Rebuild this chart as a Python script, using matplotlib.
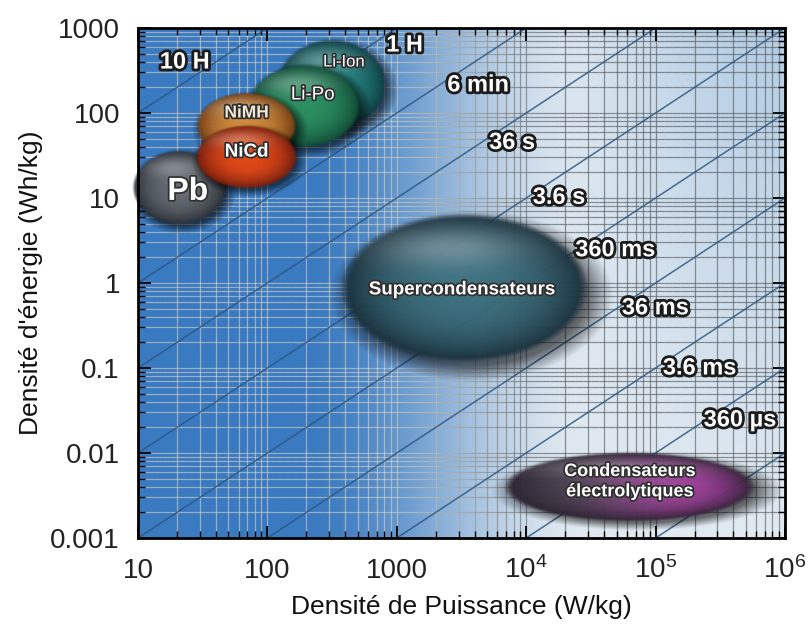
import numpy as np
import matplotlib
matplotlib.use('Agg')
import matplotlib.pyplot as plt
from matplotlib.collections import LineCollection
from matplotlib.ticker import LogLocator, NullFormatter
import matplotlib.patheffects as pe

plt.rcParams['font.family'] = ['Liberation Sans', 'DejaVu Sans']
plt.rcParams['mathtext.fontset'] = 'custom'
plt.rcParams['mathtext.rm'] = 'Liberation Sans'
plt.rcParams['mathtext.it'] = 'Liberation Sans:italic'
plt.rcParams['mathtext.bf'] = 'Liberation Sans:bold'

# ---------------- data ----------------
technologies = ['Li-Ion', 'Li-Po', 'Pb', 'NiMH', 'NiCd',
                'Supercondensateurs', 'Condensateurs\nélectrolytiques']
center_power = [316, 192, 21, 69, 69, 3300, 63000]           # W/kg
center_energy = [214, 120, 13.1, 70, 30, 0.87, 0.0040]        # Wh/kg
span_power_dec = [0.85, 0.87, 0.73, 0.78, 0.79, 1.92, 1.96]   # width in decades
span_energy_dec = [1.06, 0.98, 0.88, 0.78, 0.75, 1.76, 0.82]  # height in decades
label_power = [390, 224, 24.3, 69, 69, 3170, 63000]
label_energy = [398, 163, 11.8, 100, 34.7, 0.83, 0.0046]

durations_h = [10, 1, 0.1, 0.01, 1e-3, 1e-4, 1e-5, 1e-6, 1e-7, 1e-8]
duration_labels = ['10 H', '1 H', '6 min', '36 s', '3.6 s', '360 ms', '36 ms', '3.6 ms', '360 µs']
duration_label_power = [23, 1150, 4260, 7800, 18000, 49000, 100000, 220000, 450000]
duration_label_energy = [398, 631, 214, 45, 10.2, 2.46, 0.51, 0.10, 0.0245]

x_ticks = [10, 100, 1000, 1e4, 1e5, 1e6]
x_tick_labels = ['10', '100', '1000', r'$\mathregular{10^4}$',
                 r'$\mathregular{10^5}$', r'$\mathregular{10^6}$']
y_ticks = [0.001, 0.01, 0.1, 1, 10, 100, 1000]
y_tick_labels = ['0.001', '0.01', '0.1', '1', '10', '100', '1000']
x_range = (10, 1e6)
y_range = (0.001, 1000)

# ---------------- styles ----------------
blob_mid = [(38, 135, 130), (45, 148, 100), (105, 110, 116), (218, 142, 60),
            (238, 75, 22), (62, 115, 130), (78, 70, 84)]
blob_mid2 = [None, None, None, None, None, None, (200, 72, 190)]
blob_rim = [(10, 55, 60), (15, 70, 50), (40, 44, 50), (110, 55, 15),
            (110, 25, 10), (22, 42, 52), (40, 30, 45)]
blob_z = [3.0, 3.2, 3.4, 3.6, 3.8, 3.0, 3.0]
label_size = [12, 13.5, 23, 12.5, 13.5, 13.5, 13]
label_weight = ['normal', 'normal', 'bold', 'bold', 'bold', 'bold', 'bold']
label_color = ['white', 'white', 'white', '#f5e8d5', 'white', 'white', 'white']

fig = plt.figure(figsize=(8.08, 6.28), dpi=100)
ax = fig.add_axes([0.1708, 0.1433, 0.8007, 0.8121])
ax.set_xscale('log')
ax.set_yscale('log')
ax.set_xlim(*x_range)
ax.set_ylim(*y_range)
ax.set_autoscale_on(False)

# ---- background gradient (axes coordinates) ----
nx, ny = 400, 300
t = np.linspace(0, 1, nx)[None, :]
s = np.linspace(1, 0, ny)[:, None]


def smooth(a, b, x):
    z = np.clip((x - a) / (b - a), 0, 1)
    return z * z * (3 - 2 * z)


blue = np.array([58, 122, 192]) / 255
white = np.array([226, 234, 241]) / 255
light_top = np.array([172, 200, 226]) / 255
g = smooth(0.55, 1.0, t) * 0.85
light = white[None, None, :] * (1 - (s * g)[..., None]) + light_top[None, None, :] * (s * g)[..., None]
w = smooth(0.25, 0.70, t)[..., None]
bg = blue[None, None, :] * (1 - w) + light * w
bg = np.broadcast_to(bg, (ny, nx, 3))
ax.imshow(bg, extent=(0, 1, 0, 1), transform=ax.transAxes, aspect='auto',
          interpolation='bilinear', zorder=0)

# ---- grid with colour varying from light (left) to dark (right) ----
lx0, lx1 = np.log10(x_range)
ly0, ly1 = np.log10(y_range)
grid_light = np.array([0.90, 0.86, 0.78, 0.55])
grid_dark = np.array([0.34, 0.36, 0.38, 0.65])


def grid_color(tt):
    m = smooth(0.36, 0.66, np.asarray(tt))[..., None]
    return grid_light * (1 - m) + grid_dark * m


loc = LogLocator(base=10, subs=np.arange(1, 10))
xv = [v for v in loc.tick_values(*x_range) if x_range[0] < v < x_range[1]]
yv = [v for v in loc.tick_values(*y_range) if y_range[0] < v < y_range[1]]
vsegs = [[(v, y_range[0]), (v, y_range[1])] for v in xv]
vcols = grid_color([(np.log10(v) - lx0) / (lx1 - lx0) for v in xv])
ax.add_collection(LineCollection(vsegs, colors=vcols, linewidths=0.9, zorder=1))
xs = np.logspace(lx0, lx1, 81)
hsegs, hcols = [], []
for v in yv:
    for a, b in zip(xs[:-1], xs[1:]):
        hsegs.append([(a, v), (b, v)])
        hcols.append(grid_color((np.log10(np.sqrt(a * b)) - lx0) / (lx1 - lx0)))
ax.add_collection(LineCollection(hsegs, colors=hcols, linewidths=0.9, zorder=1))

# ---- constant-duration lines E = t * P ----
P = np.array(x_range)
for d in durations_h:
    ax.plot(P, d * P, color='#2b5682', lw=1.1, alpha=0.85, zorder=2)

# ---- technology blobs (ellipses in log space, shaded) ----
T = ax.transLimits + ax.transAxes   # log10 coordinates -> display


def blob(lx, ly, wd, hd, mid, rim, mid2, z):
    n = 200
    u = np.linspace(-1, 1, n)
    U, V = np.meshgrid(u, u[::-1])
    r = np.sqrt(U ** 2 + V ** 2)
    mid = np.array(mid, float)
    rim = np.array(rim, float)
    if mid2 is not None:
        mix = smooth(-0.7, 0.8, U)[..., None]
        base = mid * (1 - mix) + np.array(mid2, float) * mix
    else:
        base = np.broadcast_to(mid, (n, n, 3))
    f = (np.clip(r, 0, 1) ** 2.4)[..., None]
    col = base * (1 - f) + rim * f
    hl = (0.30 * np.exp(-((U + 0.15) ** 2 / 0.35 + (V - 0.55) ** 2 / 0.07)))[..., None]
    col = col + (255 - col) * hl
    alpha = np.clip((1.0 - r) / 0.07, 0, 1) * 0.95
    img = np.dstack([np.clip(col / 255, 0, 1), alpha])
    im = ax.imshow(img, extent=(lx - wd / 2, lx + wd / 2, ly - hd / 2, ly + hd / 2),
                   transform=T, aspect='auto', interpolation='bilinear', zorder=z)
    im.set_clip_on(False)
    # soft shadow
    k = 1.3
    us = np.linspace(-k, k, n)
    Us, Vs = np.meshgrid(us, us[::-1])
    rs = np.sqrt(Us ** 2 + Vs ** 2)
    sa = 0.55 * np.clip((1.15 - rs) / 0.22, 0, 1)
    simg = np.zeros((n, n, 4))
    simg[..., 3] = sa
    ox, oy = 0.03 * wd, -0.05 * hd
    ax.imshow(simg, extent=(lx - k * wd / 2 + ox, lx + k * wd / 2 + ox,
                            ly - k * hd / 2 + oy, ly + k * hd / 2 + oy),
              transform=T, aspect='auto', interpolation='bilinear', zorder=z - 0.05)


for i, name in enumerate(technologies):
    blob(np.log10(center_power[i]), np.log10(center_energy[i]),
         span_power_dec[i], span_energy_dec[i],
         blob_mid[i], blob_rim[i], blob_mid2[i], blob_z[i])
    ax.text(label_power[i], label_energy[i], name, ha='center', va='center',
            fontsize=label_size[i], fontweight=label_weight[i], color=label_color[i],
            linespacing=1.25, zorder=blob_z[i] + 0.05,
            path_effects=[pe.withStroke(linewidth=2.5, foreground='#303030')])

# ---- duration labels ----
for lab, px, py in zip(duration_labels, duration_label_power, duration_label_energy):
    ax.text(px, py, lab, ha='center', va='center', fontsize=17, fontweight='bold',
            color='white', zorder=10, clip_on=True,
            path_effects=[pe.withStroke(linewidth=4, foreground='#1c1c1c')])

# ---- axes styling ----
ax.set_xticks(x_ticks, labels=x_tick_labels)
ax.set_yticks(y_ticks, labels=y_tick_labels)
ax.xaxis.set_minor_locator(LogLocator(base=10, subs=np.arange(2, 10)))
ax.yaxis.set_minor_locator(LogLocator(base=10, subs=np.arange(2, 10)))
ax.xaxis.set_minor_formatter(NullFormatter())
ax.yaxis.set_minor_formatter(NullFormatter())
ax.tick_params(which='both', direction='in', top=True, right=True, color='black')
ax.tick_params(which='major', length=9, width=1.3)
ax.tick_params(which='minor', length=5, width=1.0)
ax.tick_params(axis='x', which='major', labelsize=20, labelcolor='#222222', pad=29)
ax.tick_params(axis='y', which='major', labelsize=20, labelcolor='#222222', pad=13)
for lbl in ax.get_xticklabels():
    lbl.set_verticalalignment('baseline')
for sp in ax.spines.values():
    sp.set_linewidth(2)
    sp.set_color('black')
    sp.set_zorder(12)

ax.set_xlabel('Densité de Puissance (W/kg)', fontsize=19, color='#111111', labelpad=8)
ax.set_ylabel("Densité d'énergie (Wh/kg)", fontsize=19, color='#111111', labelpad=5)

fig.savefig('out.png', dpi=100)
